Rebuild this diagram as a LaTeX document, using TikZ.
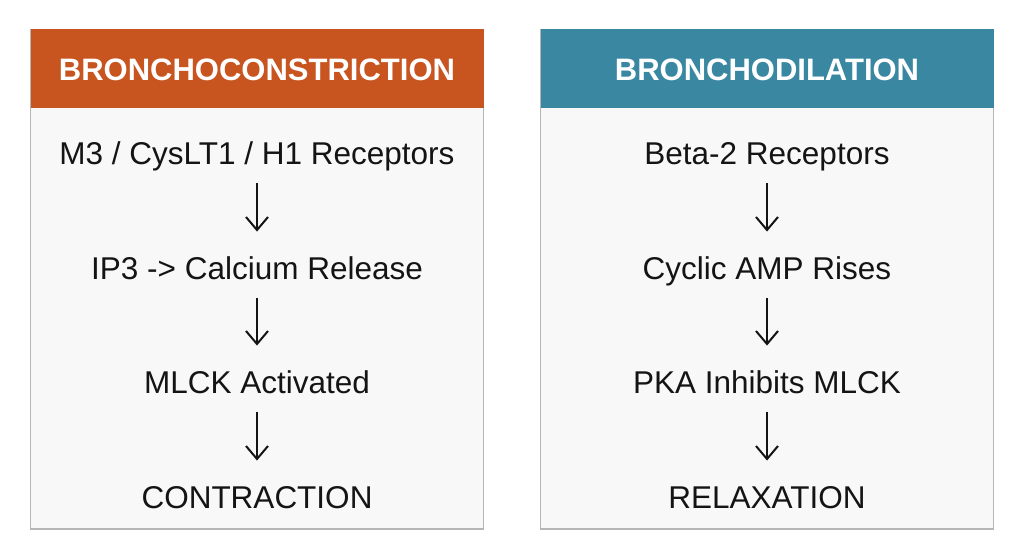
\documentclass[tikz,border=0pt]{standalone}
\usepackage{fontspec}
\setmainfont{Liberation Sans}
\usetikzlibrary{arrows.meta}
\definecolor{constrhead}{RGB}{200, 84, 32}
\definecolor{dilathead}{RGB}{58, 135, 162}
\definecolor{panelbg}{RGB}{248, 248, 248}
\definecolor{panelline}{RGB}{182, 182, 182}
\definecolor{steptxt}{RGB}{20, 20, 20}

\tikzset{
	headtext/.style={text=white, font=\fontsize{31}{36}\selectfont\bfseries},
	steptext/.style={text=steptxt, font=\fontsize{31.5}{36}\selectfont, text height=22.5pt, text depth=0pt, inner sep=0pt},
	flowarrow/.style={-{Straight Barb[length=13pt, width=22pt]}, line width=2pt, draw=steptxt, shorten <=19pt, shorten >=25pt}
}

\begin{document}
\begin{tikzpicture}[x=1pt, y=-1pt]
			\def\pw{453}
			\def\ph{499.5}
			\def\hh{79}
			
			\useasboundingbox (0, 0) rectangle (1024, 559);
			\fill[white] (0, 0) rectangle (1024, 559);
			
			% panels
			\fill[panelbg] (30.5, 29.5) rectangle ++(\pw, \ph);
			\draw[panelline, line width=1.2pt] (30.5, 29.5) rectangle ++(\pw, \ph);
			\fill[constrhead] (30.5, 29.5) rectangle ++(\pw, \hh);
			
			\fill[panelbg] (540.5, 29.5) rectangle ++(\pw, \ph);
			\draw[panelline, line width=1.2pt] (540.5, 29.5) rectangle ++(\pw, \ph);
			\fill[dilathead] (540.5, 29.5) rectangle ++(\pw, \hh);
			
			\node[headtext] (lhead) at (257, 70) {BRONCHOCONSTRICTION};
			\node[headtext] (rhead) at (767, 70) {BRONCHODILATION};
			
			% constriction steps
			\node[steptext] (l1) at (257, 153) {M3 / CysLT1 / H1 Receptors};
			\node[steptext] (l2) at (257, 268) {IP3 -> Calcium Release};
			\node[steptext] (l3) at (257, 382) {MLCK Activated};
			\node[steptext] (l4) at (257, 497) {CONTRACTION};
			
			% dilation steps
			\node[steptext] (r1) at (767, 153) {Beta-2 Receptors};
			\node[steptext] (r2) at (767, 268) {Cyclic AMP Rises};
			\node[steptext] (r3) at (767, 382) {PKA Inhibits MLCK};
			\node[steptext] (r4) at (767, 497) {RELAXATION};
			
			\draw[flowarrow] (l1) -- (l2);
			\draw[flowarrow] (l2) -- (l3);
			\draw[flowarrow] (l3) -- (l4);
			\draw[flowarrow] (r1) -- (r2);
			\draw[flowarrow] (r2) -- (r3);
			\draw[flowarrow] (r3) -- (r4);
			
		\end{tikzpicture}
\end{document}
